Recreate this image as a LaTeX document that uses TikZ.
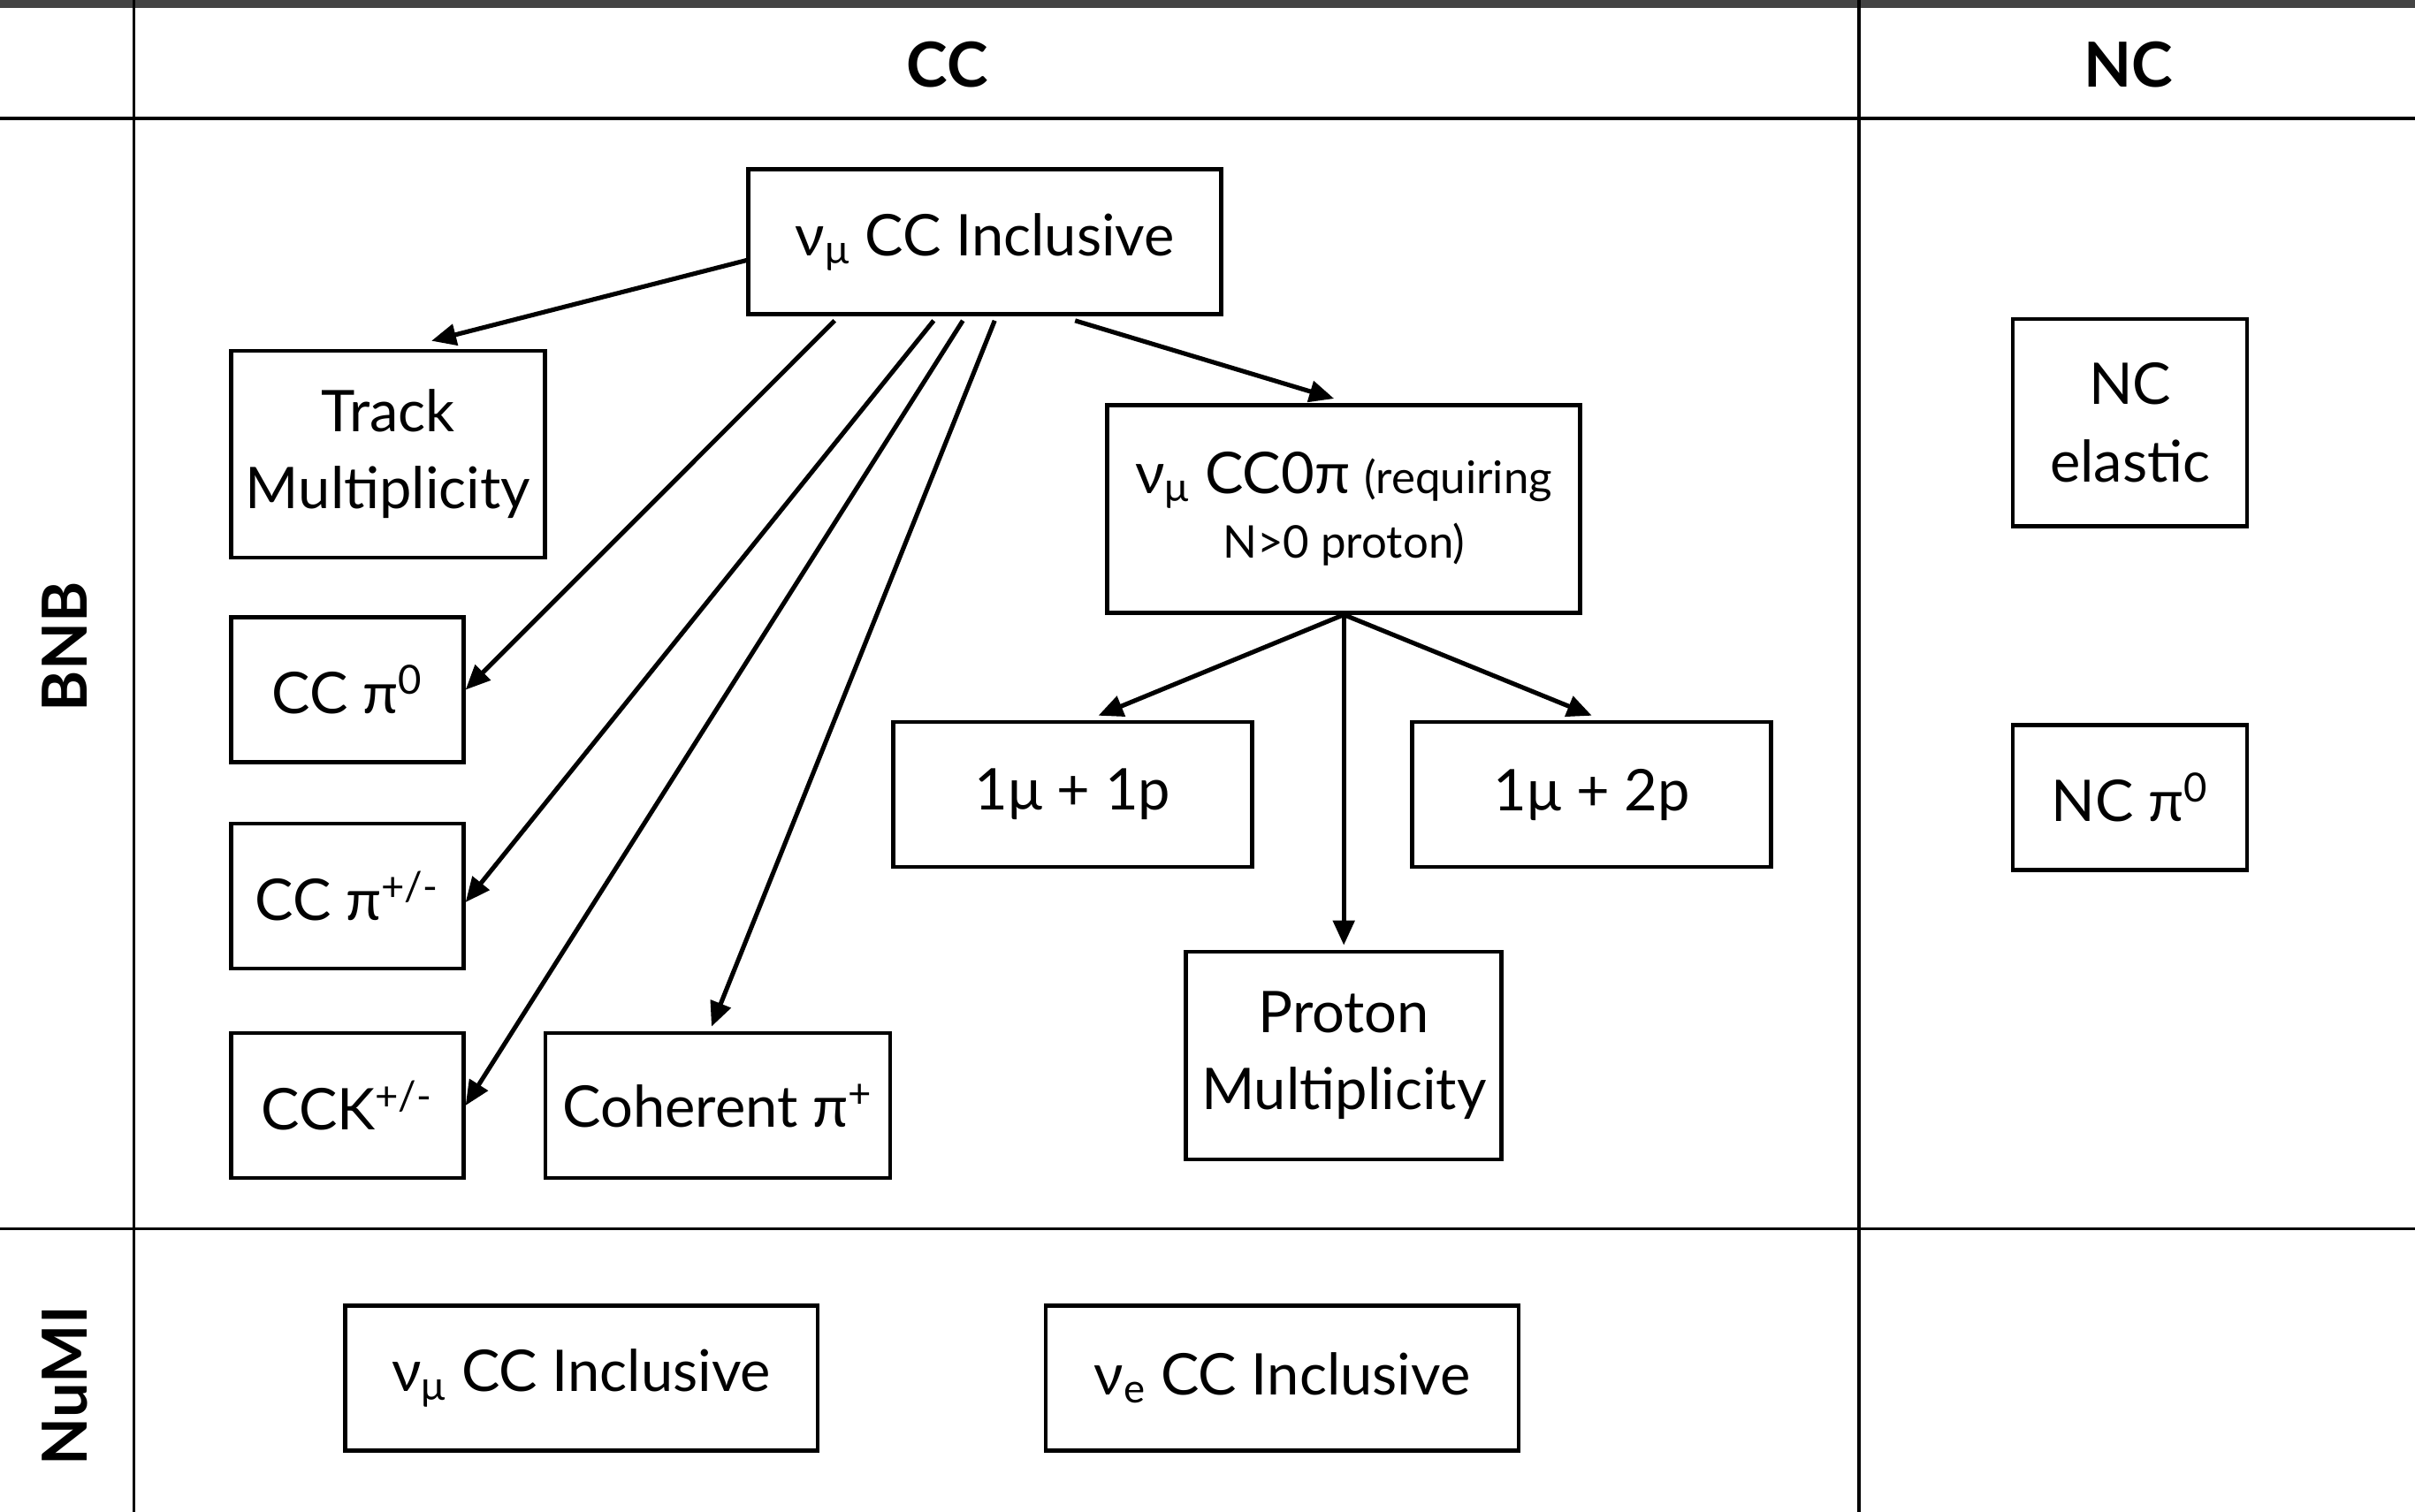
\documentclass[tikz,border=0pt]{standalone}
\usepackage{fontspec}
\setmainfont{Lato}
\usetikzlibrary{arrows.meta, positioning}
\definecolor{barcol}{HTML}{444444}
\tikzset{
    box/.style={rectangle, draw, line width=1.3pt, align=center, inner sep=0pt, font=\fontsize{18.5}{24.8}\selectfont},
    head/.style={font=\bfseries\fontsize{20}{24}\selectfont},
    arrow/.style={line width=1.45pt, -{Triangle[length=0.28cm, width=0.24cm]}},
    rule/.style={line width=1pt}
}

\begin{document}
\begin{tikzpicture}[x=0.017423cm, y=-0.017423cm]
    \useasboundingbox (0,0) rectangle (1568,982);

    % table frame
    \fill[barcol] (0,0) rectangle (1568,5);
    \draw[rule] (0,77) -- (1568,77);
    \draw[rule] (0,798) -- (1568,798);
    \draw[rule] (87,0) -- (87,982);
    \draw[rule] (1207,0) -- (1207,982);

    % row and column headers
    \node (cc) [head] at (615,42) {CC};
    \node (nc) [head] at (1382,42) {NC};
    \node (bnb) [head, rotate=90] at (42,420) {BNB};
    \node (numi) [head, rotate=90] at (42,900) {NuMI};

    % BNB charged current
    \node (incl) [box, minimum width=5.35cm, minimum height=1.64cm] at (639.5,157) {ν\textsubscript{μ} CC Inclusive};
    \node (track) [box, minimum width=3.55cm, minimum height=2.34cm] at (252,295) {Track\\Multiplicity};
    \node (ccpi0) [box, minimum width=2.63cm, minimum height=1.64cm] at (225.5,448) {CC π\textsuperscript{0}};
    \node (ccpipm) [box, minimum width=2.63cm, minimum height=1.64cm] at (225.5,582) {CC π\textsuperscript{+/-}};
    \node (cck) [box, minimum width=2.63cm, minimum height=1.64cm] at (225.5,718) {CCK\textsuperscript{+/-}};
    \node (coh) [box, minimum width=3.90cm, minimum height=1.64cm] at (466,718) {Coherent π\textsuperscript{+}};
    \node (cczero) [box, minimum width=5.35cm, minimum height=2.35cm, font=\fontsize{18.5}{21}\selectfont] at (872.5,330.5)
        {ν\textsubscript{μ} CC0π {\fontsize{14.5}{21}\selectfont (requiring}\\{\fontsize{14.5}{21}\selectfont N>0 proton)}};
    \node (mup) [box, minimum width=4.06cm, minimum height=1.64cm] at (696.5,516) {1μ + 1p};
    \node (mupp) [box, minimum width=4.06cm, minimum height=1.64cm] at (1033.5,516) {1μ + 2p};
    \node (protmult) [box, minimum width=3.57cm, minimum height=2.35cm] at (872.5,685.5) {Proton\\Multiplicity};

    % BNB neutral current
    \node (ncel) [box, minimum width=2.65cm, minimum height=2.35cm] at (1383,274.5) {NC\\elastic};
    \node (ncpi0) [box, minimum width=2.65cm, minimum height=1.64cm] at (1383,518) {NC π\textsuperscript{0}};

    % NuMI
    \node (numimu) [box, minimum width=5.35cm, minimum height=1.64cm] at (377.5,895) {ν\textsubscript{μ} CC Inclusive};
    \node (numie) [box, minimum width=5.35cm, minimum height=1.64cm] at (832.5,895) {ν\textsubscript{e} CC Inclusive};

    % Inclusive -> sub-channels
    \draw[arrow] ([yshift=-0.21cm]incl.west) -- ([xshift=0.49cm, yshift=0.09cm]track.north);
    \draw[arrow] ([xshift=-1.70cm, yshift=-0.05cm]incl.south) -- (ccpi0.east);
    \draw[arrow] ([xshift=-0.58cm, yshift=-0.05cm]incl.south) -- ([yshift=-0.07cm]ccpipm.east);
    \draw[arrow] ([xshift=-0.25cm, yshift=-0.05cm]incl.south) -- (cck.east);
    \draw[arrow] ([xshift=0.11cm, yshift=-0.05cm]incl.south) -- ([xshift=-0.07cm, yshift=0.05cm]coh.north);
    \draw[arrow] ([xshift=1.02cm, yshift=-0.05cm]incl.south) -- ([xshift=-0.11cm, yshift=0.05cm]cczero.north);

    % CC0pi -> final states
    \draw[arrow] (cczero.south) -- ([xshift=0.29cm, yshift=0.05cm]mup.north);
    \draw[arrow] (cczero.south) -- ([yshift=0.05cm]mupp.north);
    \draw[arrow] (cczero.south) -- ([yshift=0.05cm]protmult.north);
\end{tikzpicture}
\end{document}
